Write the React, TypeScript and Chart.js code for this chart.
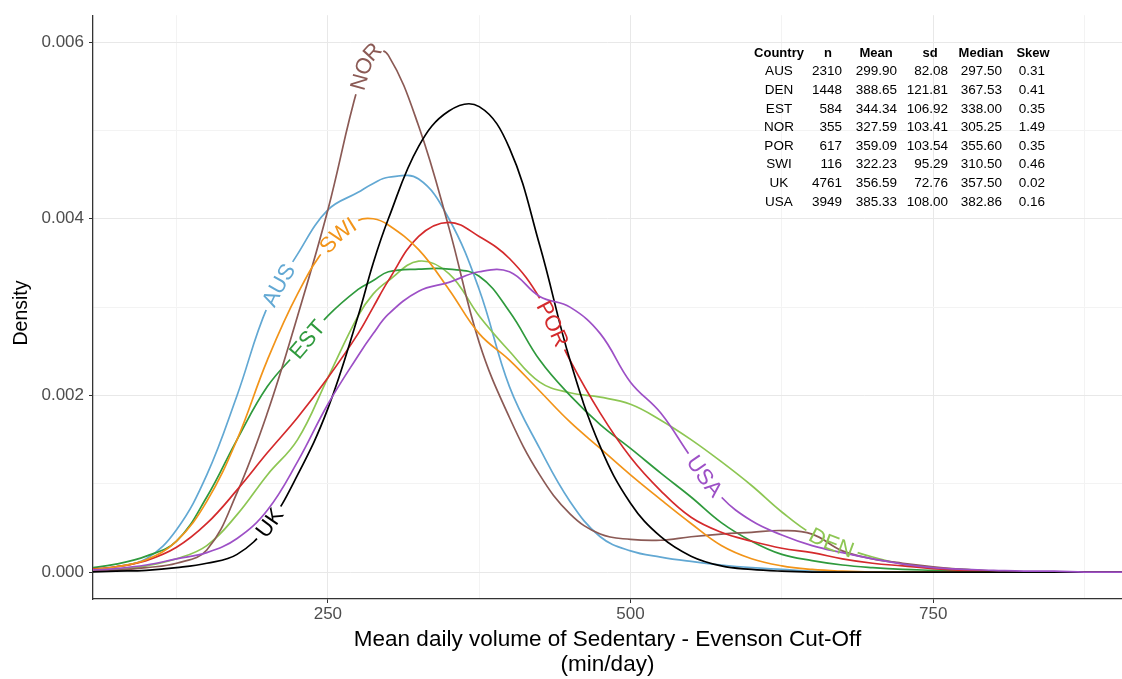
import React, { useEffect, useRef } from 'react';
import { Chart, registerables } from 'chart.js';

Chart.register(...registerables);

// ---------------- data ----------------
const xValues = [50, 75, 100, 125, 150, 175, 200, 225, 250, 275, 287.5, 300, 325, 350, 375, 400, 425, 450, 475, 500, 525, 550, 575, 600, 625, 650, 675, 700, 725, 750, 775, 800, 825, 850, 875, 900, 925];

const countries = ['AUS', 'DEN', 'EST', 'NOR', 'POR', 'SWI', 'UK', 'USA'];

const ausDensity = [0.00002, 0.00006, 0.00015, 0.00048, 0.0011, 0.002, 0.003, 0.0036, 0.0041, 0.0043, 0.0044, 0.00447, 0.00445, 0.004, 0.0032, 0.0021, 0.0014, 0.0008, 0.0004, 0.00024, 0.00017, 0.00012, 0.00008, 0.00005, 0.00003, 0.00001, 0, 0, 0, 0, 0, 0, 0, 0, 0, 0, 0];
const denDensity = [0.00001, 0.00003, 0.00007, 0.00015, 0.0003, 0.00065, 0.0011, 0.0015, 0.0022, 0.0029, 0.00315, 0.0033, 0.00352, 0.00338, 0.0029, 0.0025, 0.00215, 0.00203, 0.00198, 0.0019, 0.00172, 0.0015, 0.00125, 0.00098, 0.00068, 0.00043, 0.00028, 0.00017, 0.00009, 0.00005, 0.00003, 0.00001, 0, 0, 0, 0, 0];
const estDensity = [0.00004, 0.00009, 0.00018, 0.00035, 0.00085, 0.0015, 0.0021, 0.0025, 0.0029, 0.0032, 0.0033, 0.0034, 0.00343, 0.00343, 0.00335, 0.00295, 0.0024, 0.002, 0.00167, 0.0014, 0.00112, 0.00085, 0.00056, 0.00035, 0.0002, 0.00013, 0.00008, 0.00005, 0.00003, 0.00002, 0.00001, 0, 0, 0, 0, 0, 0];
const norDensity = [0.00001, 0.00002, 0.00005, 0.0001, 0.00025, 0.0009, 0.0018, 0.0029, 0.0041, 0.0055, 0.0059, 0.00585, 0.00505, 0.0039, 0.0026, 0.00175, 0.0011, 0.00066, 0.00043, 0.00037, 0.00036, 0.0004, 0.00043, 0.00045, 0.00047, 0.00043, 0.00024, 0.00015, 0.0001, 0.00006, 0.00003, 0.00001, 0, 0, 0, 0, 0];
const porDensity = [0.00003, 0.00006, 0.00013, 0.00028, 0.00055, 0.00093, 0.00135, 0.00175, 0.0022, 0.0027, 0.003, 0.0033, 0.0038, 0.00396, 0.0038, 0.00355, 0.0031, 0.0024, 0.0018, 0.0013, 0.00092, 0.00062, 0.00045, 0.00035, 0.00027, 0.00022, 0.00015, 0.0001, 0.00007, 0.00004, 0.00002, 0.00001, 0, 0, 0, 0, 0];
const swiDensity = [0.00002, 0.00006, 0.00014, 0.00035, 0.0008, 0.0015, 0.0024, 0.00315, 0.0037, 0.00398, 0.004, 0.00393, 0.00365, 0.0032, 0.0027, 0.0024, 0.00205, 0.0017, 0.0014, 0.0011, 0.00082, 0.00055, 0.0003, 0.00015, 0.00007, 0.00003, 0.00001, 0, 0, 0, 0, 0, 0, 0, 0, 0, 0];
const ukDensity = [0, 0.00001, 0.00002, 0.00005, 0.0001, 0.0002, 0.00052, 0.0011, 0.00185, 0.0029, 0.0035, 0.004, 0.00482, 0.00522, 0.00527, 0.0048, 0.0037, 0.0024, 0.00142, 0.00078, 0.0004, 0.00018, 0.00007, 0.00003, 0.00001, 0, 0, 0, 0, 0, 0, 0, 0, 0, 0, 0, 0];
const usaDensity = [0.00002, 0.00004, 0.00008, 0.00015, 0.00022, 0.00038, 0.0007, 0.00125, 0.0019, 0.00245, 0.0027, 0.00292, 0.00318, 0.00328, 0.0034, 0.0034, 0.00312, 0.003, 0.0027, 0.00215, 0.0018, 0.0013, 0.00085, 0.00058, 0.00042, 0.0003, 0.00022, 0.00015, 0.00009, 0.00005, 0.00003, 0.00002, 0.00001, 0.00001, 0, 0, 0];

const densitySeries = [ausDensity, denDensity, estDensity, norDensity, porDensity, swiDensity, ukDensity, usaDensity];

// x position (min/day) where each country's name sits on its curve
const labelCentres = [209, 666, 233, 280, 436, 258, 202, 561];

const xTickValues = [125, 250, 375, 500, 625, 750, 875];
const yTickValues = [0, 0.001, 0.002, 0.003, 0.004, 0.005, 0.006];

const tableHeader = ['Country', 'n', 'Mean', 'sd', 'Median', 'Skew'];
const tableN = ['2310', '1448', '584', '355', '617', '116', '4761', '3949'];
const tableMean = ['299.90', '388.65', '344.34', '327.59', '359.09', '322.23', '356.59', '385.33'];
const tableSd = ['82.08', '121.81', '106.92', '103.41', '103.54', '95.29', '72.76', '108.00'];
const tableMedian = ['297.50', '367.53', '338.00', '305.25', '355.60', '310.50', '357.50', '382.86'];
const tableSkew = ['0.31', '0.41', '0.35', '1.49', '0.35', '0.46', '0.02', '0.16'];

// ---------------- styles ----------------
const lineColors = ['#62a8d3', '#8dc653', '#2f9a3d', '#8b5a55', '#d42a2c', '#f29419', '#000000', '#9d50c6'];
const FONT_FAMILY = '"Liberation Sans", Arial, Helvetica, sans-serif';
const LABEL_FONT = `22px ${FONT_FAMILY}`;

type P = { x: number; y: number };
type PathInfo = { pts: P[]; cum: number[] };

function buildPath(meta: any): PathInfo {
  const src = meta.data as any[];
  const pts: P[] = [];
  for (let i = 0; i < src.length - 1; i++) {
    const a = src[i];
    const b = src[i + 1];
    const c1x = a.cp2x ?? a.x, c1y = a.cp2y ?? a.y;
    const c2x = b.cp1x ?? b.x, c2y = b.cp1y ?? b.y;
    const steps = 14;
    for (let k = 0; k < steps; k++) {
      const t = k / steps;
      const mt = 1 - t;
      pts.push({
        x: mt * mt * mt * a.x + 3 * mt * mt * t * c1x + 3 * mt * t * t * c2x + t * t * t * b.x,
        y: mt * mt * mt * a.y + 3 * mt * mt * t * c1y + 3 * mt * t * t * c2y + t * t * t * b.y,
      });
    }
  }
  const last = src[src.length - 1];
  pts.push({ x: last.x, y: last.y });
  const cum = [0];
  for (let i = 1; i < pts.length; i++) {
    cum.push(cum[i - 1] + Math.hypot(pts[i].x - pts[i - 1].x, pts[i].y - pts[i - 1].y));
  }
  return { pts, cum };
}

function pointAt(path: PathInfo, s: number) {
  const { pts, cum } = path;
  let i = 1;
  while (i < cum.length - 1 && cum[i] < s) i++;
  const a = pts[i - 1];
  const b = pts[i];
  const seg = cum[i] - cum[i - 1] || 1;
  const t = Math.max(0, Math.min(1, (s - cum[i - 1]) / seg));
  return { x: a.x + (b.x - a.x) * t, y: a.y + (b.y - a.y) * t, angle: Math.atan2(b.y - a.y, b.x - a.x) };
}

function arcAtX(path: PathInfo, px: number) {
  const { pts, cum } = path;
  for (let i = 1; i < pts.length; i++) {
    if (pts[i].x >= px) {
      const dx = pts[i].x - pts[i - 1].x || 1;
      const t = (px - pts[i - 1].x) / dx;
      return cum[i - 1] + (cum[i] - cum[i - 1]) * t;
    }
  }
  return cum[cum.length - 1];
}

const labelStore: Record<number, { path: PathInfo; s0: number; w: number }> = {};

const textPathPlugin = {
  id: 'textPath',
  beforeDatasetDraw(chart: any, args: any) {
    const i = args.index;
    const meta = args.meta;
    const ctx = chart.ctx as CanvasRenderingContext2D;
    if (meta.dataset && meta.dataset.updateControlPoints) {
      meta.dataset.updateControlPoints(chart.chartArea, 'x');
    }
    const path = buildPath(meta);
    ctx.save();
    ctx.font = LABEL_FONT;
    const w = ctx.measureText(countries[i]).width;
    ctx.restore();
    const px = chart.scales.x.getPixelForValue(labelCentres[i]);
    const s0 = arcAtX(path, px);
    labelStore[i] = { path, s0, w };

    const gap = 5;
    const h = 11;
    const sA = s0 - w / 2 - gap;
    const sB = s0 + w / 2 + gap;
    const fwd: P[] = [];
    const back: P[] = [];
    for (let s = sA; s <= sB + 0.01; s += 1) {
      const p = pointAt(path, s);
      const nx = -Math.sin(p.angle);
      const ny = Math.cos(p.angle);
      fwd.push({ x: p.x + nx * h, y: p.y + ny * h });
      back.push({ x: p.x - nx * h, y: p.y - ny * h });
    }
    ctx.save();
    ctx.beginPath();
    ctx.rect(0, 0, chart.width, chart.height);
    ctx.moveTo(fwd[0].x, fwd[0].y);
    for (let k = 1; k < fwd.length; k++) ctx.lineTo(fwd[k].x, fwd[k].y);
    for (let k = back.length - 1; k >= 0; k--) ctx.lineTo(back[k].x, back[k].y);
    ctx.closePath();
    ctx.clip('evenodd');
  },
  afterDatasetDraw(chart: any) {
    chart.ctx.restore();
  },
  afterDatasetsDraw(chart: any) {
    const ctx = chart.ctx as CanvasRenderingContext2D;
    ctx.save();
    ctx.font = LABEL_FONT;
    ctx.textAlign = 'center';
    ctx.textBaseline = 'middle';
    countries.forEach((name, i) => {
      const info = labelStore[i];
      if (!info) return;
      ctx.fillStyle = lineColors[i];
      let s = info.s0 - info.w / 2;
      for (const ch of name) {
        const cw = ctx.measureText(ch).width;
        const p = pointAt(info.path, s + cw / 2);
        ctx.save();
        ctx.translate(p.x, p.y);
        ctx.rotate(p.angle);
        ctx.fillText(ch, 0, 1);
        ctx.restore();
        s += cw;
      }
    });
    ctx.restore();
  },
};

const tablePlugin = {
  id: 'statsTable',
  afterDraw(chart: any) {
    const ctx = chart.ctx as CanvasRenderingContext2D;
    // y-axis title
    ctx.save();
    ctx.fillStyle = '#000';
    ctx.font = `19.5px ${FONT_FAMILY}`;
    ctx.textAlign = 'center';
    ctx.textBaseline = 'middle';
    ctx.translate(22, 313);
    ctx.rotate(-Math.PI / 2);
    ctx.fillText('Density', 0, 0);
    ctx.restore();

    const headerY = 53;
    const rowStep = 18.6;
    const colCentres = [779, 828, 876, 930, 981, 1033];
    const colRights = [0, 842, 897, 948, 1002, 1045];
    const columns = [countries, tableN, tableMean, tableSd, tableMedian, tableSkew];
    ctx.save();
    ctx.fillStyle = '#000';
    ctx.textBaseline = 'middle';
    ctx.font = `bold 13px ${FONT_FAMILY}`;
    ctx.textAlign = 'center';
    tableHeader.forEach((h, c) => ctx.fillText(h, colCentres[c], headerY));
    ctx.font = `13.5px ${FONT_FAMILY}`;
    columns.forEach((col, c) => {
      col.forEach((v, r) => {
        const y = headerY + rowStep * (r + 1);
        if (c === 0) {
          ctx.textAlign = 'center';
          ctx.fillText(v, colCentres[c], y);
        } else {
          ctx.textAlign = 'right';
          ctx.fillText(v, colRights[c], y);
        }
      });
    });
    ctx.restore();
  },
};

export default function App() {
  const canvasRef = useRef<HTMLCanvasElement>(null);

  useEffect(() => {
    document.body.style.margin = '0';
    Chart.defaults.font.family = FONT_FAMILY;
    const datasets = countries.map((name, i) => ({
      label: name,
      data: xValues.map((x, k) => ({ x, y: densitySeries[i][k] })),
      borderColor: lineColors[i],
      backgroundColor: lineColors[i],
      borderWidth: 1.7,
      pointRadius: 0,
      fill: false,
      tension: 0.4,
      order: countries.length - 1 - i,
    }));

    const isMajorX = (v: number) => v % 250 === 0;
    const isMajorY = (v: number) => Math.round(v * 1000) % 2 === 0;

    const chart = new Chart(canvasRef.current as HTMLCanvasElement, {
      type: 'line',
      data: { datasets },
      plugins: [textPathPlugin, tablePlugin],
      options: {
        animation: false,
        responsive: false,
        maintainAspectRatio: false,
        layout: { padding: { top: 14, right: 0, bottom: 0, left: 0 } },
        plugins: { legend: { display: false }, tooltip: { enabled: false } },
        scales: {
          x: {
            type: 'linear',
            min: 56,
            max: 906,
            afterBuildTicks: (s: any) => {
              s.ticks = xTickValues.map((v) => ({ value: v }));
            },
            afterFit: (s: any) => {
              s.height = 80;
            },
            border: { color: '#333333', width: 1.3 },
            grid: {
              color: (c: any) => (c.tick && isMajorX(c.tick.value) ? '#e8e8e8' : '#f3f3f3'),
              lineWidth: 1,
              tickLength: 4,
              tickColor: (c: any) => (c.tick && isMajorX(c.tick.value) ? '#333333' : 'rgba(0,0,0,0)'),
            },
            ticks: {
              autoSkip: false,
              maxRotation: 0,
              padding: 1,
              color: '#4d4d4d',
              font: { size: 17 },
              callback: (v: any) => (isMajorX(Number(v)) ? String(v) : ''),
            },
            title: {
              display: true,
              text: ['Mean daily volume of Sedentary - Evenson Cut-Off', '(min/day)'],
              color: '#000000',
              font: { size: 22.5, lineHeight: 24.5 / 22.5 },
              padding: { top: 0, bottom: 2 },
            },
          },
          y: {
            type: 'linear',
            min: -0.000305,
            max: 0.006305,
            afterBuildTicks: (s: any) => {
              s.ticks = yTickValues.map((v) => ({ value: v }));
            },
            afterFit: (s: any) => {
              s.width = 93;
            },
            border: { color: '#333333', width: 1.3 },
            grid: {
              color: (c: any) => (c.tick && isMajorY(c.tick.value) ? '#e8e8e8' : '#f3f3f3'),
              lineWidth: 1,
              tickLength: 4,
              tickColor: (c: any) => (c.tick && isMajorY(c.tick.value) ? '#333333' : 'rgba(0,0,0,0)'),
            },
            ticks: {
              autoSkip: false,
              padding: 5,
              color: '#4d4d4d',
              font: { size: 17 },
              callback: (v: any) => (isMajorY(Number(v)) ? Number(v).toFixed(3) : ''),
            },
            title: { display: false },
          },
        },
      },
    });
    return () => chart.destroy();
  }, []);

  return (
    <div style={{ width: 1122, height: 679 }}>
      <canvas ref={canvasRef} width={1122} height={679} style={{ display: 'block' }} />
    </div>
  );
}
